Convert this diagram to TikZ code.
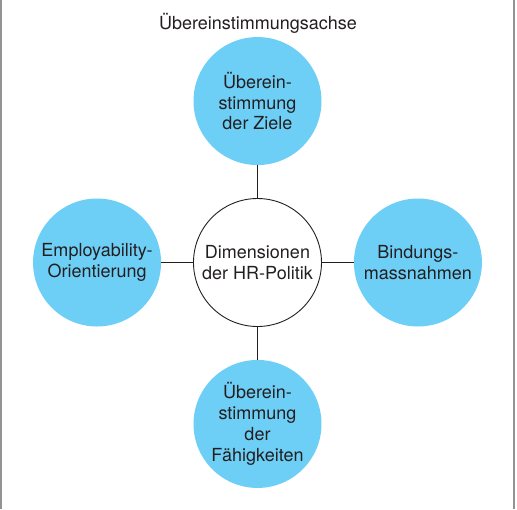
\documentclass[tikz,border=0pt]{standalone}
\usepackage{fontspec}
\setmainfont{TeX Gyre Heros}
\usetikzlibrary{matrix}
\definecolor{dimblue}{HTML}{6DCFF6}
\definecolor{dimtext}{HTML}{231F20}

\begin{document}
\begin{tikzpicture}[x=1pt,y=-1pt]
       \tikzstyle{dim} = [circle, fill=dimblue, minimum size=128pt, inner sep=0pt, align=center,
                          text=dimtext, font=\fontsize{18}{20.8}\selectfont];
       \tikzstyle{core} = [dim, fill=white, draw=dimtext, line width=0.9pt];
       \useasboundingbox (0,0) rectangle (517,509);
       % side rules of the box
       \draw[gray!85, line width=2pt] (1,0) -- (1,509);
       \draw[gray!85, line width=2pt] (514,0) -- (514,509);
       \node[text=dimtext, font=\fontsize{18}{20.8}\selectfont] (axis) at (258,23) {Übereinstimmungsachse};
       \matrix [row sep=33pt,column sep=32pt,ampersand replacement=\&] at (257.5,262.5)
       {
         \& % left
         \node[dim](ziele){Überein-\\stimmung\\der Ziele}; \& % middle
         \\% right
         \node[dim](employ){Employability-\\Orientierung}; \&
         \node[core](hr){Dimensionen\\der HR-Politik}; \&
         \node[dim](bindung){Bindungs-\\massnahmen}; \\
         \& % left
         \node[dim](faehig){Überein-\\stimmung\\der\\Fähigkeiten}; \& % middle
         \\% right
       };
       \draw[-, dimtext, line width=0.9pt] (ziele.south) -- (hr.north);
       \draw[-, dimtext, line width=0.9pt] (hr.south) -- (faehig.north);
       \draw[-, dimtext, line width=0.9pt] (employ.east) -- (hr.west);
       \draw[-, dimtext, line width=0.9pt] (hr.east) -- (bindung.west);
     \end{tikzpicture}
\end{document}
